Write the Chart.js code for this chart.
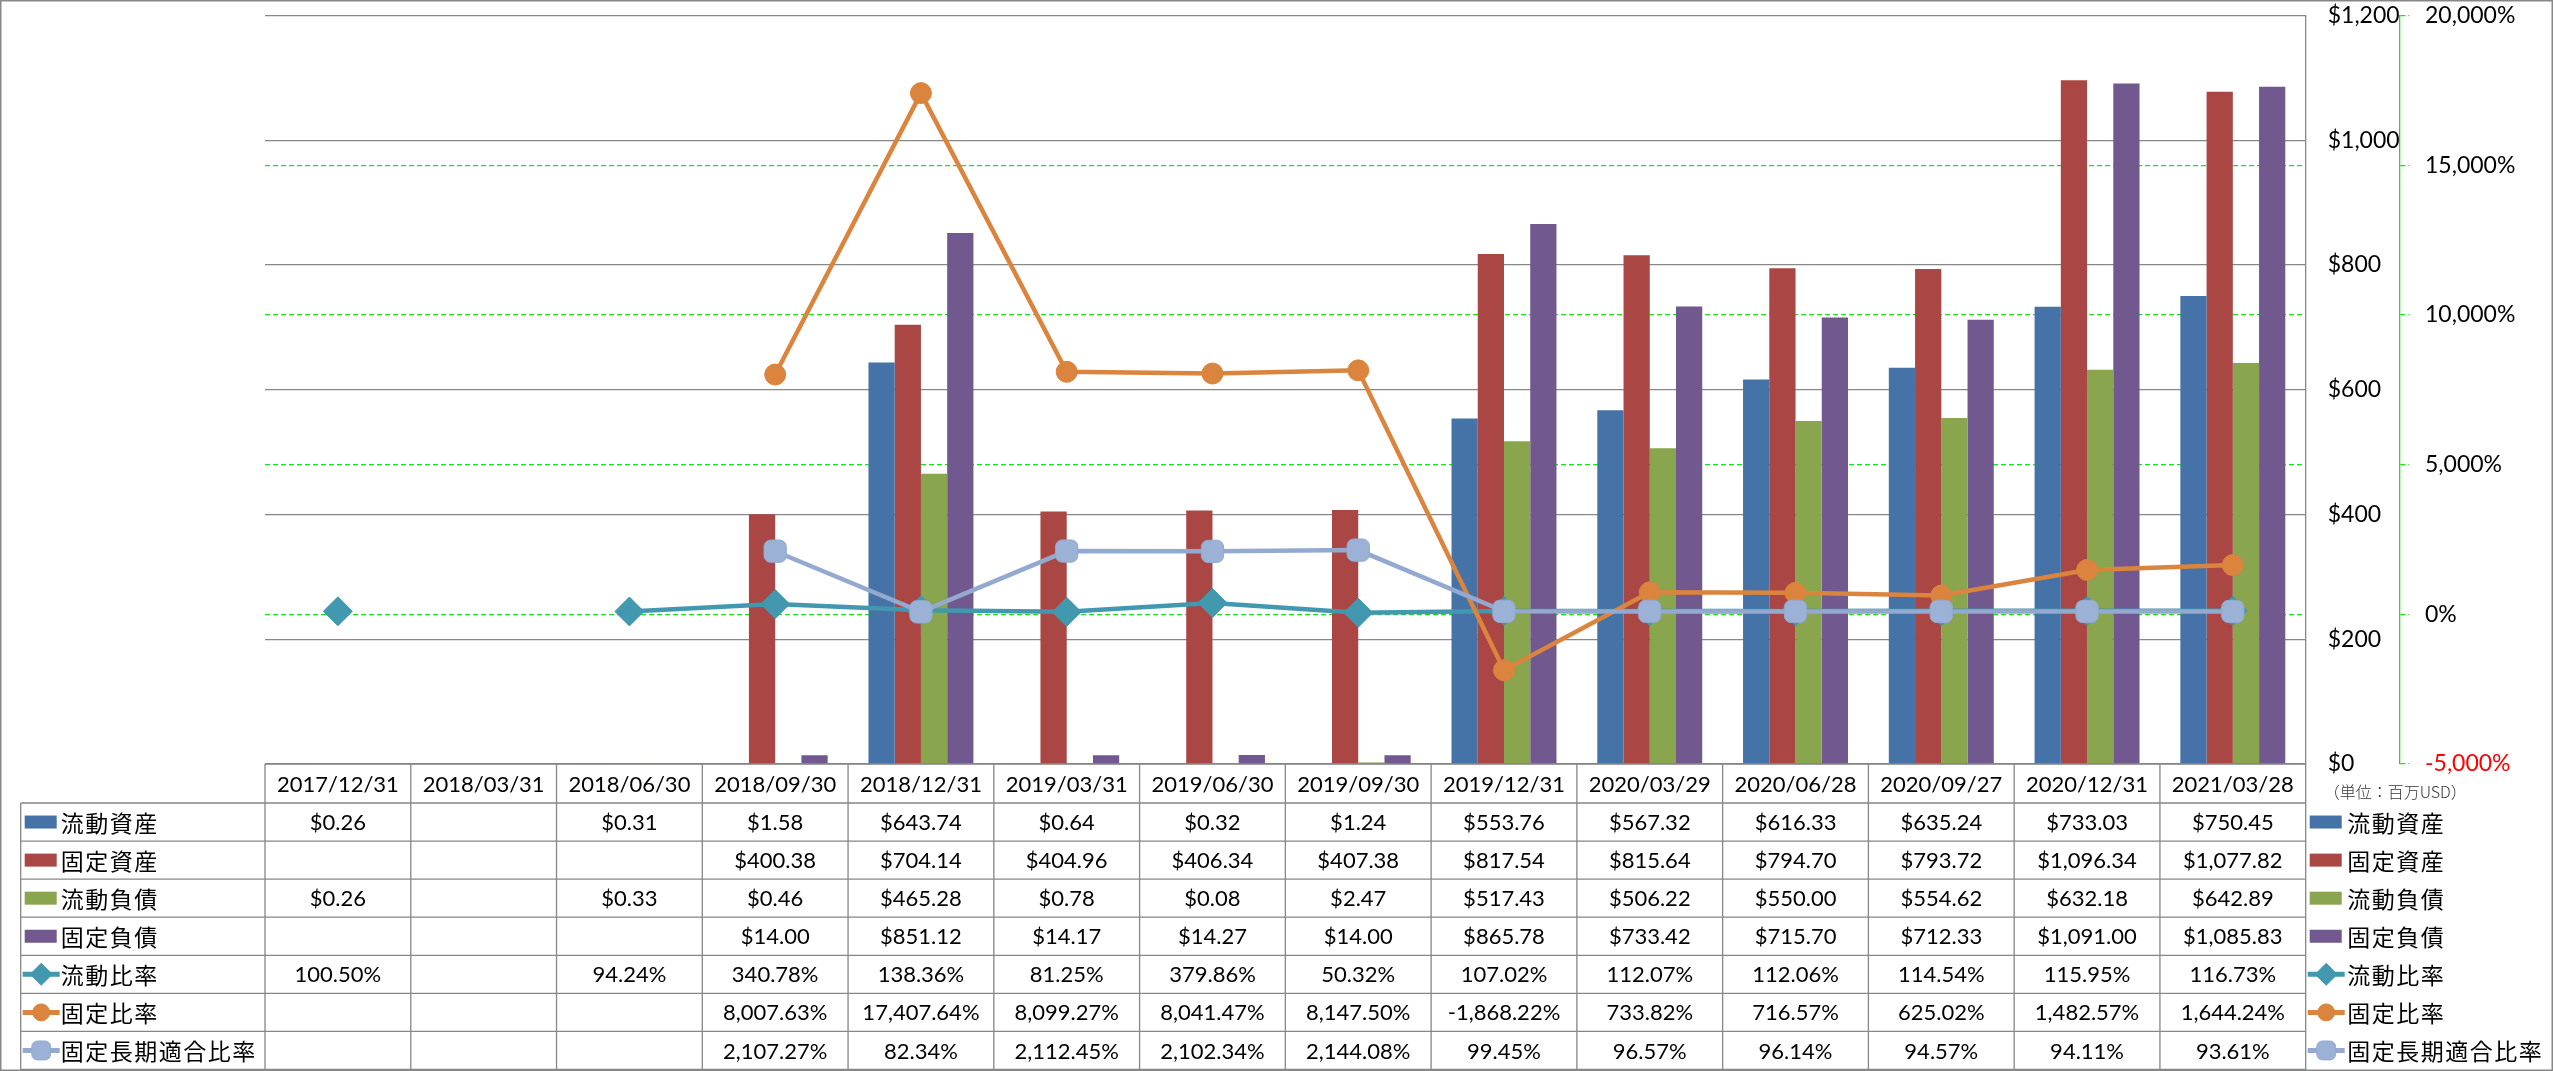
<!DOCTYPE html>
<html>
<head>
<meta charset="utf-8">
<script src="https://cdn.jsdelivr.net/npm/chart.js@4.4.1/dist/chart.umd.min.js"></script>
<style>
  html, body { margin: 0; padding: 0; background: #fff; }
  #wrap { width: 2553px; height: 1071px; position: relative; }
</style>
</head>
<body>
<div id="wrap"><canvas id="bsChart"></canvas></div>
<script>
const periods = ['2017/12/31', '2018/03/31', '2018/06/30', '2018/09/30', '2018/12/31', '2019/03/31', '2019/06/30',
                 '2019/09/30', '2019/12/31', '2020/03/29', '2020/06/28', '2020/09/27', '2020/12/31', '2021/03/28'];

// 百万USD
const currentAssets      = [0.26, null, 0.31, 1.58, 643.74, 0.64, 0.32, 1.24, 553.76, 567.32, 616.33, 635.24, 733.03, 750.45];
const fixedAssets        = [null, null, null, 400.38, 704.14, 404.96, 406.34, 407.38, 817.54, 815.64, 794.70, 793.72, 1096.34, 1077.82];
const currentLiabilities = [0.26, null, 0.33, 0.46, 465.28, 0.78, 0.08, 2.47, 517.43, 506.22, 550.00, 554.62, 632.18, 642.89];
const fixedLiabilities   = [null, null, null, 14.00, 851.12, 14.17, 14.27, 14.00, 865.78, 733.42, 715.70, 712.33, 1091.00, 1085.83];

// %
const currentRatio   = [100.50, null, 94.24, 340.78, 138.36, 81.25, 379.86, 50.32, 107.02, 112.07, 112.06, 114.54, 115.95, 116.73];
const fixedRatio     = [null, null, null, 8007.63, 17407.64, 8099.27, 8041.47, 8147.50, -1868.22, 733.82, 716.57, 625.02, 1482.57, 1644.24];
const fixedLongRatio = [null, null, null, 2107.27, 82.34, 2112.45, 2102.34, 2144.08, 99.45, 96.57, 96.14, 94.57, 94.11, 93.61];

const usdTicks = { min: 0, max: 1200, step: 200 };
const pctTicks = { min: -5000, max: 20000, step: 5000 };
const unitLabel = '（単位：百万USD）';

// ---- styles ----
const BLUE = '#4572A7', RED = '#AA4643', GREEN = '#89A54E', PURPLE = '#71588F';
const TEAL = '#4198AF', ORANGE = '#DB843D', LIGHTBLUE = '#93A9CF';
const GRID_GREY = '#878787', DASH_GREEN = '#14e614';
const NUM_FONT = '22px Lato, "Open Sans", sans-serif';
const JP_FONT = '23px "Noto Sans CJK JP", sans-serif';

const fmtUsd = v => '$' + v.toLocaleString('en-US', { minimumFractionDigits: 2, maximumFractionDigits: 2 });
const fmtPct = v => v.toLocaleString('en-US', { minimumFractionDigits: 2, maximumFractionDigits: 2 }) + '%';

// rows of the data table / legend, in series order
const tableRows = [
  { name: '流動資産', values: currentAssets, kind: 'bar', color: BLUE, fmt: fmtUsd },
  { name: '固定資産', values: fixedAssets, kind: 'bar', color: RED, fmt: fmtUsd },
  { name: '流動負債', values: currentLiabilities, kind: 'bar', color: GREEN, fmt: fmtUsd },
  { name: '固定負債', values: fixedLiabilities, kind: 'bar', color: PURPLE, fmt: fmtUsd },
  { name: '流動比率', values: currentRatio, kind: 'line', color: TEAL, fill: TEAL, point: 'rectRot', r: 11, fmt: fmtPct },
  { name: '固定比率', values: fixedRatio, kind: 'line', color: ORANGE, fill: ORANGE, point: 'circle', r: 8.5, fmt: fmtPct },
  { name: '固定長期適合比率', values: fixedLongRatio, kind: 'line', color: LIGHTBLUE, fill: '#9CB1D6', point: 'rectRounded', r: 11, fmt: fmtPct }
];

function drawKey(ctx, row, x, cy) {
  ctx.save();
  if (row.kind === 'bar') {
    ctx.fillStyle = row.color;
    ctx.fillRect(x + 4, cy - 6.5, 32, 13);
  } else {
    ctx.strokeStyle = row.color;
    ctx.lineWidth = 5;
    ctx.beginPath();
    ctx.moveTo(x + 2, cy);
    ctx.lineTo(x + 39, cy);
    ctx.stroke();
    ctx.fillStyle = row.fill;
    ctx.strokeStyle = row.color;
    ctx.lineWidth = 1;
    Chart.helpers.drawPoint(ctx, { pointStyle: row.point, radius: row.r, rotation: 0, borderWidth: 1 }, x + 20.5, cy);
  }
  ctx.restore();
}

// data table under the plot + legend on the right + frame
const tablePlugin = {
  id: 'dataTable',
  afterDraw(chart) {
    const ctx = chart.ctx;
    const ca = chart.chartArea;
    const n = periods.length;
    const colW = (ca.right - ca.left) / n;
    const tableLeft = 20.7;
    const tableBottom = chart.height - 1.5;
    const headTop = ca.bottom;
    const headBottom = headTop + 39;
    const rowH = (tableBottom - headBottom) / tableRows.length;

    ctx.save();
    ctx.strokeStyle = GRID_GREY;
    ctx.lineWidth = 1.3;
    ctx.beginPath();
    // header top + horizontal row lines
    ctx.moveTo(ca.left, headTop); ctx.lineTo(ca.right, headTop);
    for (let r = 0; r <= tableRows.length; r++) {
      const y = headBottom + r * rowH;
      ctx.moveTo(tableLeft, y); ctx.lineTo(ca.right, y);
    }
    // verticals
    ctx.moveTo(tableLeft, headBottom); ctx.lineTo(tableLeft, tableBottom);
    for (let i = 0; i <= n; i++) {
      const x = ca.left + i * colW;
      ctx.moveTo(x, headTop); ctx.lineTo(x, tableBottom);
    }
    ctx.stroke();

    ctx.fillStyle = '#000';
    ctx.textAlign = 'center';
    ctx.textBaseline = 'middle';
    ctx.font = NUM_FONT;
    periods.forEach((p, i) => {
      ctx.fillText(p, ca.left + (i + 0.5) * colW, (headTop + headBottom) / 2 + 1);
    });

    tableRows.forEach((row, r) => {
      const cy = headBottom + (r + 0.5) * rowH;
      ctx.font = NUM_FONT;
      ctx.textAlign = 'center';
      ctx.fillStyle = '#000';
      row.values.forEach((v, i) => {
        if (v === null) return;
        ctx.fillText(row.fmt(v), ca.left + (i + 0.5) * colW, cy + 1);
      });
      // legend in table
      drawKey(ctx, row, tableLeft, cy);
      drawKey(ctx, row, ca.right, cy);
      ctx.font = JP_FONT;
      ctx.textAlign = 'left';
      ctx.fillStyle = '#000';
      ctx.letterSpacing = '1.5px';
      ctx.fillText(row.name, tableLeft + 40, cy + 1);
      ctx.fillText(row.name, ca.right + 41.5, cy + 1);
      ctx.letterSpacing = '0px';
    });

    // unit label
    ctx.font = '300 16px "Noto Sans CJK JP", sans-serif';
    ctx.fillStyle = '#333';
    ctx.textAlign = 'left';
    ctx.fillText(unitLabel, ca.right + 18, headTop + 28);

    // outer frame
    ctx.strokeStyle = GRID_GREY;
    ctx.lineWidth = 1.5;
    ctx.strokeRect(0.75, 0.75, chart.width - 1.5, chart.height - 1.5);
    ctx.restore();
  }
};

const barSet = (label, data, color) => ({
  type: 'bar', label, data, yAxisID: 'y', backgroundColor: color, borderWidth: 0,
  barPercentage: 1.0, categoryPercentage: 0.72, order: 10
});
const lineSet = (label, data, color, fill, style, radius, order) => ({
  type: 'line', label, data, yAxisID: 'y1', borderColor: color, backgroundColor: fill,
  borderWidth: 4.5, pointStyle: style, pointRadius: radius, pointBorderWidth: 1,
  pointBorderColor: color, pointBackgroundColor: fill, tension: 0, spanGaps: false, order
});

// keep the plot box where the reference has it: no label overflow padding
const fixWidth = w => s => { s.width = w; s.paddingTop = 0; s.paddingBottom = 0; };

const ctx = document.getElementById('bsChart').getContext('2d');
new Chart(ctx, {
  type: 'bar',
  data: {
    labels: periods,
    datasets: [
      barSet('流動資産', currentAssets, BLUE),
      barSet('固定資産', fixedAssets, RED),
      barSet('流動負債', currentLiabilities, GREEN),
      barSet('固定負債', fixedLiabilities, PURPLE),
      lineSet('流動比率', currentRatio, TEAL, TEAL, 'rectRot', 14.5, 3),
      lineSet('固定比率', fixedRatio, ORANGE, ORANGE, 'circle', 10.5, 2),
      lineSet('固定長期適合比率', fixedLongRatio, LIGHTBLUE, '#9CB1D6', 'rectRounded', 13, 1)
    ]
  },
  options: {
    responsive: true,
    maintainAspectRatio: false,
    animation: false,
    layout: { padding: { top: 15, left: 265, bottom: 307, right: 0 } },
    plugins: {
      legend: { display: false },
      tooltip: { enabled: false }
    },
    scales: {
      x: { display: false, offset: true },
      y: {
        position: 'right',
        min: usdTicks.min, max: usdTicks.max,
        afterFit: fixWidth(94.3),
        ticks: {
          stepSize: usdTicks.step, padding: 22, color: '#000',
          font: { family: 'Lato, "Open Sans", sans-serif', size: 23 },
          callback: v => '$' + v.toLocaleString('en-US')
        },
        grid: { color: GRID_GREY, lineWidth: 1.3, drawTicks: false },
        border: { display: true, color: GRID_GREY, width: 1.3 }
      },
      y1: {
        position: 'right',
        min: pctTicks.min, max: pctTicks.max,
        afterFit: fixWidth(153),
        ticks: {
          stepSize: pctTicks.step, padding: 16,
          color: c => (c.tick && c.tick.value < 0) ? '#ff0000' : '#000',
          font: { family: 'Lato, "Open Sans", sans-serif', size: 23 },
          callback: v => v.toLocaleString('en-US') + '%'
        },
        grid: {
          color: c => (c.index === 0 || c.tick.value === pctTicks.max) ? 'rgba(0,0,0,0)' : DASH_GREEN,
          lineWidth: 1.3, drawTicks: true, tickLength: 9,
          tickColor: DASH_GREEN, tickWidth: 1.3, tickBorderDash: [5, 3]
        },
        border: { display: true, color: DASH_GREEN, width: 1.3, dash: [5, 3] }
      }
    }
  },
  plugins: [tablePlugin]
});
</script>
</body>
</html>
